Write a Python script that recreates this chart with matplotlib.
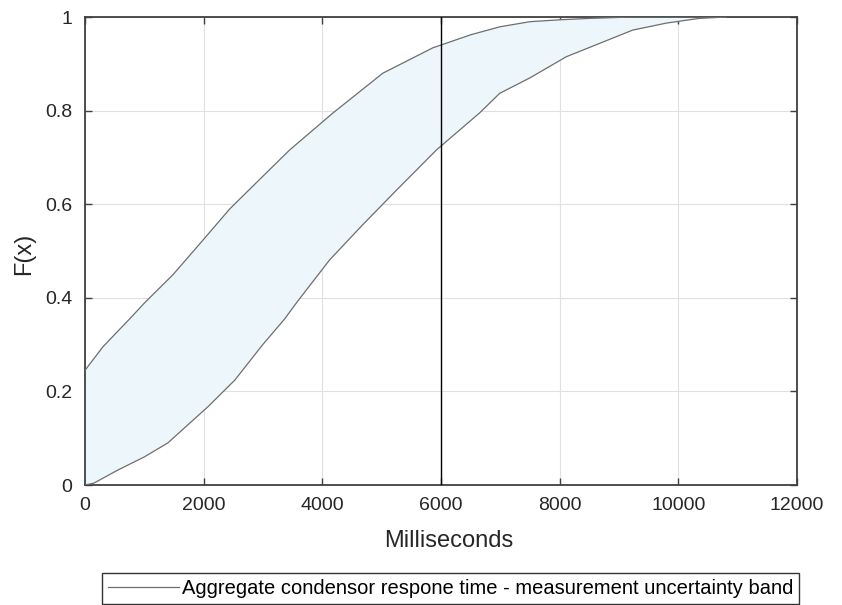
import numpy as np
import matplotlib
matplotlib.use("Agg")
import matplotlib.pyplot as plt

# band edges (ms, F(x))
upper_x = [0, 300, 790, 1010, 1480, 2000, 2440, 3000, 3450, 4180, 5020, 5860,
           6500, 6990, 7500, 8000, 8500, 9230, 10000, 10800]
upper_y = [0.245, 0.295, 0.36, 0.39, 0.449, 0.525, 0.59, 0.66, 0.716, 0.795,
           0.88, 0.934, 0.962, 0.979, 0.99, 0.994, 0.997, 1.0, 1.0, 1.0]
lower_x = [0, 150, 555, 1000, 1397, 2070, 2524, 2996, 3366, 3568, 4123, 4680,
           5250, 5924, 6650, 6990, 7500, 8110, 8700, 9230, 9800, 10350, 10800]
lower_y = [0.0, 0.004, 0.032, 0.06, 0.09, 0.167, 0.224, 0.30, 0.355, 0.39,
           0.481, 0.556, 0.63, 0.716, 0.795, 0.837, 0.87, 0.915, 0.945, 0.972,
           0.987, 0.997, 1.0]
marker_x = 6000
x_ticks = [0, 2000, 4000, 6000, 8000, 10000, 12000]
y_ticks = [0, 0.2, 0.4, 0.6, 0.8, 1]
y_labels = ["0", "0.2", "0.4", "0.6", "0.8", "1"]
legend_label = "Aggregate condensor respone time - measurement uncertainty band"

plt.rcParams['font.family'] = ['Liberation Sans', 'DejaVu Sans']

fig = plt.figure(figsize=(8.42, 6.05), dpi=100)
ax = fig.add_axes([85/842, 1 - 485/605, (797-85)/842, (485-17)/605])

# shaded band between the two edges
poly_x = list(upper_x) + list(lower_x[::-1])
poly_y = list(upper_y) + list(lower_y[::-1])
ax.fill(poly_x, poly_y, color="#edf6fb", lw=0, zorder=1)
line, = ax.plot(upper_x, upper_y, color="#6e6e6e", lw=0.9, zorder=3)
ax.plot(lower_x, lower_y, color="#6e6e6e", lw=0.9, zorder=3)

ax.axvline(marker_x, color="black", lw=1.0, zorder=4)

ax.set_xlim(0, 12000)
ax.set_ylim(0, 1)
ax.set_xticks(x_ticks)
ax.set_yticks(y_ticks)
ax.set_yticklabels(y_labels)
ax.grid(True, color="#e0e0e0", lw=0.8, zorder=0)
ax.set_axisbelow(True)
ax.tick_params(direction="in", top=True, right=True, length=5, width=1,
               color="#404040", labelsize=14, labelcolor="#262626", pad=9)
for s in ax.spines.values():
    s.set_color("#404040")
    s.set_linewidth(1.3)

ax.set_xlabel("Milliseconds", fontsize=17, color="#262626")
ax.xaxis.set_label_coords((449 - 85) / 712, -(541 - 485) / 468)
ax.xaxis.label.set_va("center")
ax.set_ylabel("F(x)", fontsize=17, color="#262626")
ax.yaxis.set_label_coords(-(85 - 24) / 712, (485 - 254) / 468)
ax.yaxis.label.set_va("center")

leg = fig.legend([line], [legend_label], loc="upper center",
                 bbox_to_anchor=(450.5/842, 1 - 573/605), fontsize=14.5,
                 frameon=True, fancybox=False, edgecolor="black",
                 handlelength=3.5, borderpad=0.3, handletextpad=0.15,
                 borderaxespad=0)
leg.get_frame().set_linewidth(1.0)

fig.savefig("out.png", dpi=100)
